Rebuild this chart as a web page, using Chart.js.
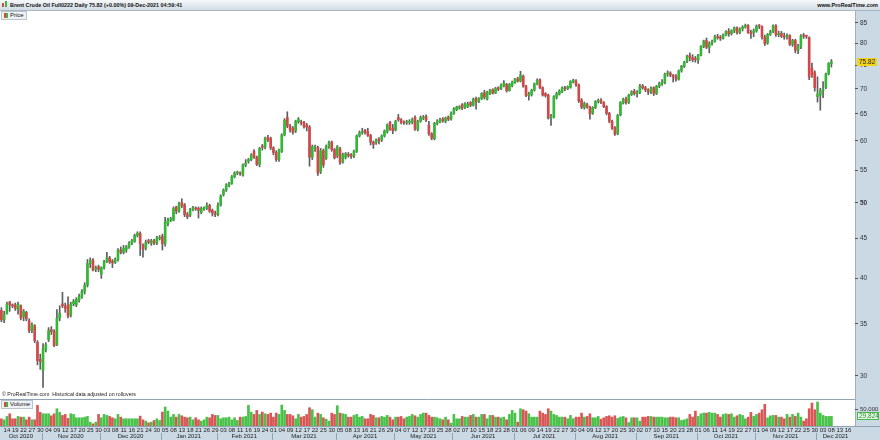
<!DOCTYPE html>
<html>
<head>
<meta charset="utf-8">
<script src="https://cdn.jsdelivr.net/npm/chart.js@4.4.1/dist/chart.umd.min.js"></script>
<style>
  body { margin: 0; width: 880px; height: 440px; overflow: hidden; background: #fff; position: relative;
         font-family: "Liberation Sans", Arial, sans-serif; }
  #hdr { position: absolute; left: 0; top: 0; width: 880px; height: 10px;
         background: linear-gradient(#f6f8fa, #d2dce4); border-bottom: 1px solid #a9b8c3; }
  #hdr .t { position: absolute; left: 10px; top: 1px; font-size: 6px; line-height: 8px; font-weight: bold; color: #111;
            white-space: nowrap; transform: scaleX(0.9); transform-origin: left; }
  #hdr .r { position: absolute; right: 2px; top: 1px; font-size: 6px; line-height: 8px; font-weight: bold; color: #111;
            white-space: nowrap; transform: scaleX(0.92); transform-origin: right; }
  #hdr .ico { position: absolute; left: 2px; top: 3px; width: 2px; height: 4px; background: #d24b4b; }
  #hdr .ico2 { position: absolute; left: 5px; top: 1px; width: 2px; height: 6px; background: #3cb83c; }
  .leg { position: absolute; left: 1px; height: 7px; padding: 0 2px 0 8px; background: #eef2f5;
         border: 1px solid #b9c4cc; font-size: 6px; line-height: 7px; color: #111; }
  .leg i { position: absolute; left: 2px; top: 1px; width: 2px; height: 5px; background: #d24b4b; }
  .leg b { position: absolute; left: 4px; top: 1px; width: 2px; height: 5px; background: #3cb83c; }
  #copy { position: absolute; left: 2px; top: 391px; font-size: 6px; line-height: 7px; color: #222; white-space: nowrap;
          transform: scaleX(0.88); transform-origin: left; }
  canvas { position: absolute; left: 0; }
</style>
</head>
<body>
<canvas id="price" width="880" height="389" style="top:10px"></canvas>
<canvas id="volume" width="880" height="41" style="top:399px"></canvas>
<div id="hdr"><span class="ico"></span><span class="ico2"></span>
  <span class="t">Brent Crude Oil Full0222 Daily 75.82 (+0.00%) 09-Dec-2021 04:59:41</span>
  <span class="r">www.ProRealTime.com</span></div>
<div class="leg" style="top:11px"><i></i><b></b>Price</div>
<div id="copy">© ProRealTime.com&nbsp; Historical data adjusted on rollovers</div>
<div class="leg" style="top:400px"><i></i><b></b>Volume</div>
<script>
// daily candles, 12 Oct 2020 .. 08 Dec 2021
const OPEN = [
  36.4,35.4,36.1,37.3,37.0,37.0,36.5,36.9,35.7,36.2, 35.3,34.3,34.8,33.1,31.5,30.5,32.4,33.4,34.4,34.2,
  32.9,35.6,37.1,36.9,37.0,35.9,37.1,37.0,37.5,37.9, 38.5,39.2,41.8,42.2,41.1,41.4,40.5,41.3,42.0,42.5,
  42.1,41.9,42.3,43.5,43.2,43.5,43.9,44.4,44.6,45.4, 45.7,44.2,43.7,44.7,44.4,44.7,44.4,45.0,45.3,44.3,
  47.0,47.5,47.5,49.4,48.8,50.0,49.7,48.3,48.2,49.0, 49.2,49.2,48.6,49.1,49.2,49.6,48.9,48.5,48.3,49.7,
  51.2,51.9,52.6,52.9,54.0,54.6,54.6,54.3,55.9,56.5, 56.8,58.2,57.2,56.0,59.1,58.9,60.6,60.5,58.8,58.0,
  56.8,58.2,61.1,64.3,62.7,62.3,61.8,63.5,63.4,63.4, 62.9,62.5,57.2,58.8,58.9,54.8,58.3,57.0,59.0,59.8,
  58.5,57.4,58.6,56.4,57.2,57.7,57.6,57.4,58.2,60.9, 61.5,61.9,61.7,61.0,59.8,59.7,60.3,60.2,60.9,61.6,
  63.4,62.3,62.0,64.3,63.9,63.4,63.3,63.4,63.4,64.3, 62.1,63.6,64.2,64.5,62.9,61.3,60.4,63.2,63.5,64.0,
  63.6,64.4,64.0,65.1,65.8,66.1,66.8,66.2,66.4,67.2, 66.7,68.0,67.4,68.0,69.2,67.9,69.0,69.8,69.1,70.2,
  70.0,70.6,70.9,69.6,70.6,71.2,72.1,71.6,72.6,70.5, 68.6,68.8,69.7,71.0,71.9,70.2,69.0,68.7,64.2,64.4,
  68.3,68.9,69.4,70.2,70.0,70.3,71.4,71.6,70.8,67.7, 66.2,66.8,66.3,65.1,66.2,67.4,67.7,67.2,66.4,65.1,
  63.6,62.4,61.3,64.8,67.1,67.9,67.2,68.8,69.5,69.0, 69.2,70.6,70.2,69.8,69.3,70.2,69.0,70.5,71.1,71.2,
  73.1,73.3,72.9,72.5,72.0,73.8,74.8,75.8,77.2,76.7, 76.4,76.2,77.3,79.3,80.7,79.1,80.0,80.5,81.6,81.5,
  81.2,82.0,82.9,82.3,83.1,83.8,82.6,83.6,84.0,84.4, 82.6,82.6,83.0,84.3,84.1,81.5,80.1,82.2,82.9,84.3,
  82.1,82.4,81.7,81.5,81.9,79.8,80.7,78.4,79.2,81.8, 81.8,81.4,74.3,73.4,68.4,68.7,69.7,70.3,73.1,75.4
];
const HIGH = [
  36.7,36.3,37.3,37.4,37.1,37.2,37.3,37.0,36.5,36.3, 35.5,35.1,34.9,33.3,32.0,33.0,33.1,34.6,34.7,34.4,
  36.5,36.9,38.4,37.2,37.9,37.3,37.6,37.8,38.2,38.7, 39.5,42.3,42.5,42.4,41.5,41.6,41.4,42.2,43.2,42.7,
  42.3,42.5,43.7,43.9,44.1,44.1,44.6,44.9,45.6,45.9, 45.9,44.3,44.8,44.9,44.9,44.9,45.3,45.4,45.6,47.9,
  47.8,47.9,49.4,49.5,50.1,50.6,49.9,48.6,49.2,49.5, 49.4,49.4,49.4,49.4,50.0,49.8,49.1,48.8,50.0,51.2,
  52.1,52.9,53.1,54.2,54.8,54.9,54.8,56.1,56.8,57.0, 57.8,58.5,57.4,58.9,59.4,60.7,61.0,60.7,59.0,58.3,
  58.6,61.3,64.1,65.4,63.0,62.6,63.8,64.3,63.8,63.6, 63.2,62.8,59.3,59.3,59.1,58.7,58.6,59.3,60.0,60.0,
  58.7,59.2,58.9,57.9,58.0,58.0,57.8,58.4,61.1,61.8, 62.3,62.1,62.3,61.2,60.0,60.4,60.6,61.1,62.0,63.1,
  63.6,63.0,63.8,64.9,64.1,63.7,63.8,63.9,64.2,64.6, 63.8,64.6,64.7,64.8,63.6,61.5,63.4,63.9,64.2,64.3,
  64.4,64.6,65.4,66.2,66.5,66.6,67.0,67.2,67.3,67.4, 68.1,68.3,68.2,69.2,69.7,69.5,69.9,70.0,70.3,70.4,
  71.0,71.7,71.1,71.1,71.6,72.2,72.4,73.7,72.9,70.7, 69.3,69.9,71.2,72.1,72.1,70.4,69.2,68.9,64.9,68.6,
  69.3,69.8,70.4,70.5,70.6,71.7,72.0,71.9,71.0,68.0, 67.3,67.1,66.5,66.4,67.6,67.9,68.0,67.4,66.6,65.3,
  63.8,62.6,64.9,67.4,68.1,68.3,68.9,69.6,69.9,69.6, 70.9,70.9,70.5,70.0,70.4,70.4,70.7,71.4,71.9,73.3,
  73.8,73.6,73.0,73.0,74.0,75.0,75.9,77.3,77.8,77.4, 77.0,77.5,79.5,80.8,81.3,80.4,80.8,82.0,82.2,81.9,
  82.3,83.1,83.6,83.3,84.0,84.0,83.8,84.3,84.7,84.6, 83.2,83.5,84.5,84.6,84.3,82.0,82.4,83.2,84.5,84.6,
  83.0,82.9,82.5,82.3,82.1,81.0,81.0,79.8,82.1,82.4, 82.0,81.6,75.5,73.8,72.5,70.1,71.5,73.3,75.6,76.3
];
const LOW = [
  35.2,35.1,36.0,36.3,36.7,36.4,36.0,35.4,35.3,35.3, 34.1,34.1,33.1,31.0,30.6,29.0,32.2,33.2,33.9,32.7,
  32.8,35.3,36.7,36.2,35.6,35.7,36.9,36.8,37.3,37.7, 38.2,39.0,41.3,40.9,40.8,40.8,40.0,41.1,41.9,41.8,
  41.3,41.8,42.1,43.0,43.0,43.2,43.7,44.2,44.5,45.2, 42.8,42.6,43.5,44.3,44.1,44.2,44.2,44.8,43.5,44.0,
  46.7,47.3,47.4,48.4,48.6,49.3,48.0,47.7,48.0,48.8, 48.9,47.8,48.4,48.9,49.0,48.6,48.1,48.0,48.1,49.5,
  51.0,51.7,52.4,52.8,53.8,54.3,54.2,54.1,55.6,56.2, 56.6,57.0,55.8,55.6,58.4,58.6,59.9,58.5,57.6,56.5,
  56.5,58.0,60.9,62.4,61.6,61.2,61.5,63.2,62.9,62.3, 61.8,55.7,56.8,58.2,54.2,54.5,55.5,56.8,58.7,58.2,
  56.9,57.1,56.0,56.2,56.9,57.2,57.0,57.1,58.0,60.7, 61.2,61.2,60.8,59.3,58.7,59.4,59.5,59.9,60.7,61.4,
  61.9,61.3,61.8,63.6,63.1,63.0,63.0,63.0,63.1,61.9, 61.8,63.4,63.9,63.5,61.0,60.2,60.2,62.9,63.3,63.4,
  63.3,63.7,63.8,64.9,65.6,65.9,65.8,66.0,66.2,66.4, 66.5,65.9,67.2,67.8,67.9,67.7,68.8,68.9,69.0,69.6,
  69.8,70.4,69.3,69.5,70.4,71.1,71.4,71.4,70.3,68.4, 67.7,68.5,69.5,70.8,70.0,68.5,68.3,64.0,62.8,64.2,
  67.9,68.7,69.2,69.6,69.8,70.1,71.2,70.5,67.2,66.0, 65.9,66.1,64.0,64.9,66.0,67.1,67.0,66.2,64.8,63.3,
  62.1,61.0,61.1,64.6,66.9,66.9,67.0,68.6,68.7,68.3, 69.0,69.9,69.4,68.8,69.0,68.6,68.8,70.2,70.7,71.0,
  72.6,72.5,71.4,71.6,71.8,73.5,74.5,75.6,76.0,75.8, 75.7,75.4,77.1,79.0,78.8,77.8,79.6,80.3,81.0,80.7,
  81.0,81.8,81.7,82.0,82.6,82.2,82.3,83.0,83.7,82.4, 81.2,81.6,82.7,83.6,81.0,79.5,79.8,81.9,82.6,81.7,
  81.6,81.4,81.0,81.0,79.5,79.3,77.8,77.6,78.8,81.2, 81.2,71.9,72.4,69.5,67.3,65.7,68.2,70.0,72.9,74.6
];
const CLOSE = [
  35.4,36.0,37.1,37.0,36.9,36.6,37.1,35.6,36.3,35.5, 34.3,34.9,33.3,31.4,31.3,32.5,32.9,34.3,34.2,32.8,
  35.6,36.1,36.9,36.6,35.8,37.1,37.4,37.6,38.0,38.5, 39.2,41.8,42.2,41.0,41.3,41.1,41.3,42.0,42.5,42.0,
  41.9,42.3,43.5,43.2,43.7,43.9,44.4,44.7,45.4,45.7, 44.3,43.6,44.5,44.5,44.7,44.4,45.1,45.1,44.3,47.3,
  47.6,47.7,49.2,48.8,49.9,49.6,48.3,48.0,49.0,49.3, 49.1,48.9,49.2,49.2,49.6,48.8,48.5,48.3,49.6,51.0,
  51.9,52.7,52.9,54.0,54.6,54.7,54.5,55.9,56.2,56.8, 57.6,57.2,56.0,58.7,58.9,60.5,60.2,58.8,58.0,56.8,
  58.4,61.1,63.8,62.7,62.0,61.6,63.6,64.0,63.3,62.6, 62.5,57.2,59.0,58.9,54.6,58.3,55.9,59.0,59.7,58.5,
  57.1,59.0,56.3,57.6,57.8,57.5,57.3,58.2,60.9,61.5, 61.7,61.5,61.0,59.8,59.4,60.2,60.0,60.9,61.8,62.9,
  62.1,61.8,63.6,63.9,63.4,63.3,63.4,63.5,63.9,62.1, 63.6,64.3,64.4,63.8,61.3,60.5,63.2,63.6,63.9,63.7,
  64.2,64.0,65.1,66.0,66.3,66.4,66.1,67.0,66.9,66.7, 67.9,67.4,68.0,69.0,68.3,69.3,69.7,69.1,70.1,69.9,
  70.8,71.2,69.6,70.9,71.4,72.0,71.6,72.9,70.5,68.6, 68.9,69.7,71.0,71.8,70.2,68.7,68.6,64.2,64.4,68.4,
  69.0,69.5,70.2,70.0,70.4,71.5,71.8,70.8,67.5,66.3, 67.0,66.3,65.0,66.2,67.4,67.6,67.2,66.4,65.1,63.6,
  62.3,61.2,64.7,67.2,67.9,67.2,68.7,69.4,69.0,69.2, 70.6,70.2,69.8,69.3,70.2,69.05,70.5,71.1,71.2,73.1,
  73.3,72.9,72.5,72.0,73.8,74.85,75.7,77.1,76.7,76.2, 76.3,77.3,79.3,80.6,79.1,80.0,80.4,81.65,81.4,81.2,
  82.0,82.9,82.3,83.1,83.8,82.6,83.5,84.0,84.4,82.6, 82.3,83.0,84.2,84.2,81.5,80.0,82.2,82.9,84.3,82.1,
  82.4,81.7,81.55,81.9,79.8,80.7,78.4,79.2,81.8,81.75, 81.7,72.4,73.0,70.2,68.87,69.67,69.88,73.08,75.44,75.82
];
const VOLUME = [
  22200,19100,29400,37600,22200,22200,29400,27300,27300,19100, 27300,19100,19100,63400,41800,37600,37600,37600,31400,37600,
  53100,41800,32500,35600,23200,37600,35600,25300,25300,25300, 27300,29400,11900,6700,11900,35600,25300,35600,32500,29400,
  25300,22200,35600,27300,22200,22200,22200,22200,22200,22200, 30400,19100,15000,9800,11900,17000,22200,17000,42800,58300,
  45900,27300,35600,27300,35600,31400,27300,25300,27300,19100, 25300,19100,15000,19100,27300,25300,35600,32500,32500,22200,
  25300,25300,27300,19100,25300,17000,27300,27300,29400,63400, 42800,35600,47900,35600,42800,37600,35600,39700,27300,39700,
  35600,64400,47900,35600,35600,31400,22200,35600,27300,29400, 35600,56200,50000,27300,39700,35600,25300,21100,15000,39700,
  35600,62400,39700,37600,35600,27300,27300,32500,35600,27300, 29400,22200,22200,35600,32500,25300,25300,29400,27300,32500,
  27300,19100,27300,27300,29400,22200,27300,29400,35600,31400, 27300,35600,39700,39700,32500,27300,27300,25300,22200,19100,
  27300,19100,8800,35600,22200,22200,29400,27300,27300,32500, 35600,27300,27300,35600,35600,22200,32500,32500,27300,27300,
  25300,27300,19100,35600,47900,39700,11900,53100,50000,45900, 37600,27300,27300,27300,45900,39700,35600,53100,45900,35600,
  32500,27300,27300,27300,22200,32500,22200,27300,27300,39700, 27300,29400,37600,25300,25300,29400,21100,25300,29400,31400,
  27300,31400,23200,27300,29400,25300,10800,25300,25300,25300, 15000,27300,27300,29400,29400,27300,27300,27300,27300,25300,
  25300,27300,27300,25300,25300,17000,19100,22200,35600,27300, 45900,29400,37600,39700,39700,41800,39700,39700,35600,27300,
  35600,37600,35600,37600,27300,31400,35600,32500,22200,27300, 41800,29400,35600,39700,50000,66500,25300,31400,32500,32500,
  27300,27300,22200,35600,27300,35600,29400,39700,27300,15000, 22200,53100,70600,50000,73700,39700,32500,29400,29400,29824
];
const PRICE_TICKS = [30, 35, 40, 45, 50, 55, 60, 65, 70, 75, 80, 85];
const VOLUME_TICKS = [50000];
const FIRST_DAY = '2020-10-12';
const LAST_AXIS_DAY = '2021-12-20';
const HOLIDAYS = ['2020-12-25', '2021-01-01', '2021-04-02'];
const MONTHS = ['Jan','Feb','Mar','Apr','May','Jun','Jul','Aug','Sep','Oct','Nov','Dec'];

// trading calendar for the x axis (weekdays minus exchange holidays, plus a week of empty future days)
function tradingDays() {
  const out = [];
  const d = new Date(FIRST_DAY + 'T00:00:00Z');
  const end = new Date(LAST_AXIS_DAY + 'T00:00:00Z');
  while (d <= end) {
    const s = d.toISOString().slice(0, 10);
    const wd = d.getUTCDay();
    if (wd !== 0 && wd !== 6 && !HOLIDAYS.includes(s)) out.push(s);
    d.setUTCDate(d.getUTCDate() + 1);
  }
  return out;
}
const DAYS = tradingDays();

const FONT = 'Liberation Sans';
const GREEN = '#33b833', RED = '#d24848';
const VGREEN = '#48c248', VRED = '#d85656';
const AXIS_BG = '#cbd9e4';
const isUp = i => CLOSE[i] >= OPEN[i];

Chart.defaults.font.family = FONT;

// keep the plot area flush with the canvas: no label padding added by the axes
const noPad = w => ax => {
  if (w.width) ax.width = w.width;
  if (w.height) ax.height = w.height;
  ax.paddingTop = 0; ax.paddingBottom = 0; ax.paddingLeft = 0; ax.paddingRight = 0;
};

// light blue panel behind the right-hand axis
const axisPanel = {
  id: 'axisPanel',
  beforeDraw(chart) {
    const { ctx, chartArea: a, width, height } = chart;
    ctx.save();
    ctx.fillStyle = AXIS_BG;
    ctx.fillRect(a.right, 0, width - a.right, height);
    ctx.strokeStyle = '#9fb1bf';
    ctx.beginPath();
    ctx.moveTo(a.right + 0.5, 0); ctx.lineTo(a.right + 0.5, height);
    ctx.stroke();
    ctx.restore();
  }
};

function tag(ctx, x, y, w, text, fill, stroke, color) {
  ctx.save();
  ctx.fillStyle = fill;
  ctx.fillRect(x, Math.round(y) - 4, w, 8);
  if (stroke) { ctx.strokeStyle = stroke; ctx.strokeRect(x + 0.5, Math.round(y) - 3.5, w - 1, 7); }
  ctx.fillStyle = color;
  ctx.font = '6.5px ' + FONT;
  ctx.textBaseline = 'middle';
  ctx.fillText(text, x + 2, Math.round(y) + 0.5);
  ctx.restore();
}

const lastPriceTag = {
  id: 'lastPriceTag',
  afterDraw(chart) {
    const y = chart.scales.y.getPixelForValue(CLOSE[CLOSE.length - 1]);
    tag(chart.ctx, chart.chartArea.right + 2, y, 20, CLOSE[CLOSE.length - 1].toFixed(2), '#f2d21b', null, '#222');
  }
};

new Chart(document.getElementById('price'), {
  type: 'bar',
  data: {
    labels: DAYS,
    datasets: [
      { data: OPEN.map((o, i) => [o, CLOSE[i]]), backgroundColor: OPEN.map((o, i) => isUp(i) ? GREEN : RED),
        barThickness: 2, minBarLength: 1, grouped: false },
      { data: LOW.map((l, i) => [l, HIGH[i]]), backgroundColor: '#5e5e5e', barThickness: 1, grouped: false }
    ]
  },
  options: {
    responsive: false, animation: false, events: [],
    layout: { padding: 0 },
    plugins: { legend: { display: false }, tooltip: { enabled: false } },
    scales: {
      x: { display: false, offset: true },
      y: {
        type: 'logarithmic', position: 'right', min: 28.03, max: 88.3,
        afterBuildTicks: ax => { ax.ticks = PRICE_TICKS.map(v => ({ value: v })); },
        afterFit: noPad({ width: 25 }),
        ticks: {
          callback: v => String(v), color: '#333', padding: 2,
          font: c => ({ family: FONT, size: 6.5, weight: c.tick && c.tick.value === 50 ? 'bold' : 'normal' })
        },
        grid: { drawOnChartArea: false, tickLength: 3, color: '#555' },
        border: { display: false }
      }
    }
  },
  plugins: [axisPanel, lastPriceTag]
});

// date band under the volume panel: day numbers, month names and separators
const dateBand = {
  id: 'dateBand',
  beforeDraw(chart) {
    const { ctx, chartArea: a, width, height } = chart;
    ctx.save();
    ctx.fillStyle = AXIS_BG;
    ctx.fillRect(0, a.bottom, width, height - a.bottom);
    ctx.strokeStyle = '#8fa3b2';
    ctx.beginPath();
    ctx.moveTo(0, 0.5); ctx.lineTo(a.right, 0.5);
    ctx.moveTo(0, a.bottom + 0.5); ctx.lineTo(width, a.bottom + 0.5);
    ctx.stroke();
    ctx.restore();
  },
  afterDraw(chart) {
    const { ctx, chartArea: a, height } = chart;
    const x = chart.scales.x;
    const half = (x.getPixelForValue(1) - x.getPixelForValue(0)) / 2;
    ctx.save();
    ctx.fillStyle = '#222';
    ctx.textAlign = 'center';
    ctx.textBaseline = 'middle';
    ctx.font = '6px ' + FONT;
    DAYS.forEach((d, i) => {
      if (i % 3 === 2) ctx.fillText(d.slice(8), x.getPixelForValue(i), a.bottom + 4.5);
    });
    ctx.strokeStyle = '#8fa3b2';
    let start = 0;
    for (let i = 1; i <= DAYS.length; i++) {
      if (i === DAYS.length || DAYS[i].slice(0, 7) !== DAYS[start].slice(0, 7)) {
        const x0 = x.getPixelForValue(start) - half, x1 = x.getPixelForValue(i - 1) + half;
        const [yy, mm] = DAYS[start].split('-');
        ctx.fillText(MONTHS[+mm - 1] + ' ' + yy, (x0 + x1) / 2, height - 3.5);
        if (i < DAYS.length) {
          ctx.beginPath();
          ctx.moveTo(Math.round(x1) + 0.5, a.bottom + 7); ctx.lineTo(Math.round(x1) + 0.5, height);
          ctx.stroke();
        }
        start = i;
      }
    }
    ctx.restore();
  }
};

const lastVolumeTag = {
  id: 'lastVolumeTag',
  afterDraw(chart) {
    const v = VOLUME[VOLUME.length - 1];
    const y = chart.scales.y.getPixelForValue(v);
    tag(chart.ctx, chart.chartArea.right + 2, y, 22, v.toLocaleString('en-US'), '#e9f8e9', '#46b946', '#2c8f2c');
  }
};

new Chart(document.getElementById('volume'), {
  type: 'bar',
  data: {
    labels: DAYS,
    datasets: [{ data: VOLUME, backgroundColor: VOLUME.map((v, i) => isUp(i) ? VGREEN : VRED), barThickness: 2 }]
  },
  options: {
    responsive: false, animation: false, events: [],
    layout: { padding: 0 },
    plugins: { legend: { display: false }, tooltip: { enabled: false } },
    scales: {
      x: {
        offset: true,
        afterFit: noPad({ height: 14 }),
        grid: { display: false }, border: { display: false },
        ticks: { display: false }
      },
      y: {
        position: 'right', min: 0, max: 83000,
        afterBuildTicks: ax => { ax.ticks = VOLUME_TICKS.map(v => ({ value: v })); },
        afterFit: noPad({ width: 25 }),
        ticks: { callback: v => v.toLocaleString('en-US'), color: '#333', padding: 2, font: { family: FONT, size: 6 } },
        grid: { drawOnChartArea: false, tickLength: 3, color: '#555' },
        border: { display: false }
      }
    }
  },
  plugins: [axisPanel, dateBand, lastVolumeTag]
});
</script>
</body>
</html>
